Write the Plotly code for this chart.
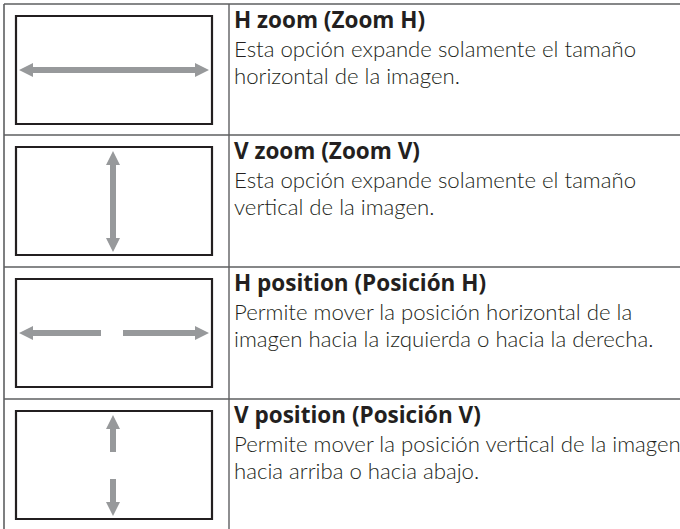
import plotly.graph_objects as go

# ---- data ----
titles = ["H zoom (Zoom H)", "V zoom (Zoom V)", "H position (Posición H)", "V position (Posición V)"]
desc_line1 = ["Esta opción expande solamente el tamaño",
              "Esta opción expande solamente el tamaño",
              "Permite mover la posición horizontal de la",
              "Permite mover la posición vertical de la imagen"]
desc_line2 = ["horizontal de la imagen.",
              "vertical de la imagen.",
              "imagen hacia la izquierda o hacia la derecha.",
              "hacia arriba o hacia abajo."]
arrow_kind = ["h_double", "v_double", "h_split", "v_split"]

W, H = 680, 529
row_tops = [4, 135, 267, 399]
col_x = 229
left_x = 4

LINE = "#5e5f61"
DARK = "#231f20"
ARROW = "#97999b"


def arrow_poly(x0, y0, x1, y1, head0, head1, shaft=6.0, hl=14.0, hw=14.0):
    import math
    dx, dy = x1 - x0, y1 - y0
    L = math.hypot(dx, dy)
    ux, uy = dx / L, dy / L
    px, py = -uy, ux
    s, h = shaft / 2, hw / 2

    def P(t, o):
        return (x0 + ux * t + px * o, y0 + uy * t + py * o)
    a0 = hl if head0 else 0
    a1 = L - hl if head1 else L
    outline = []
    if head0:
        outline += [P(0, 0), P(a0, h), P(a0, s)]
    else:
        outline += [P(0, s)]
    if head1:
        outline += [P(a1, s), P(a1, h), P(L, 0), P(a1, -h), P(a1, -s)]
    else:
        outline += [P(L, s), P(L, -s)]
    if head0:
        outline += [P(a0, -s), P(a0, -h), P(0, 0)]
    else:
        outline += [P(0, -s), P(0, s)]
    return outline


fig = go.Figure()
shapes = []
annotations = []

shapes.append(dict(type="line", x0=left_x, x1=W + 2, y0=row_tops[0], y1=row_tops[0],
                   line=dict(color=LINE, width=1.6)))
for t in row_tops[1:]:
    shapes.append(dict(type="line", x0=left_x, x1=W + 2, y0=t, y1=t, line=dict(color=LINE, width=1.4)))
shapes.append(dict(type="line", x0=left_x, x1=left_x, y0=row_tops[0], y1=H + 2, line=dict(color=LINE, width=1.6)))
shapes.append(dict(type="line", x0=col_x, x1=col_x, y0=row_tops[0], y1=H + 2, line=dict(color=LINE, width=1.4)))

for i, top in enumerate(row_tops):
    rx0, rx1 = 16, 212
    ry0, ry1 = top + 12, top + 120
    shapes.append(dict(type="rect", x0=rx0, x1=rx1, y0=ry0, y1=ry1,
                       line=dict(color=DARK, width=2.2), fillcolor="rgba(0,0,0,0)"))
    cx = (rx0 + rx1) / 2 - 1
    cy = (ry0 + ry1) / 2
    kind = arrow_kind[i]
    polys = []
    if kind == "h_double":
        polys.append(arrow_poly(rx0 + 3, cy, rx1 - 3, cy, True, True))
    elif kind == "v_double":
        polys.append(arrow_poly(cx, ry0 + 4, cx, ry1 - 3, True, True))
    elif kind == "h_split":
        polys.append(arrow_poly(rx0 + 3, cy, cx - 12, cy, True, False))
        polys.append(arrow_poly(cx + 10, cy, rx1 - 3, cy, False, True))
    else:
        polys.append(arrow_poly(cx, ry0 + 4, cx, ry0 + 41, True, False))
        polys.append(arrow_poly(cx, ry1 - 40, cx, ry1 - 3, False, True))
    for poly in polys:
        xs = [p[0] for p in poly]
        ys = [p[1] for p in poly]
        fig.add_trace(go.Scatter(x=xs, y=ys, mode="lines", fill="toself",
                                 fillcolor=ARROW, line=dict(color=ARROW, width=0),
                                 hoverinfo="skip", showlegend=False))

    tx = col_x + 3
    annotations.append(dict(x=tx, y=top + 15, text="<b>" + titles[i] + "</b>", showarrow=False,
                            xanchor="left", yanchor="middle",
                            font=dict(family="Open Sans", size=22.5, color=DARK)))
    annotations.append(dict(x=tx, y=top + 44, text=desc_line1[i], showarrow=False,
                            xanchor="left", yanchor="middle",
                            font=dict(family="Lato", size=22.2, color=DARK, weight=300)))
    annotations.append(dict(x=tx, y=top + 71, text=desc_line2[i], showarrow=False,
                            xanchor="left", yanchor="middle",
                            font=dict(family="Lato", size=22.2, color=DARK, weight=300)))

fig.update_layout(
    width=W, height=H,
    margin=dict(l=0, r=0, t=0, b=0),
    paper_bgcolor="white", plot_bgcolor="white",
    xaxis=dict(range=[0, W], visible=False, fixedrange=True),
    yaxis=dict(range=[H, 0], visible=False, fixedrange=True),
    shapes=shapes, annotations=annotations, showlegend=False,
)
fig.write_html("out.html", config={"displayModeBar": False},
               post_script="document.body.style.margin='0';document.body.style.overflow='hidden';")
